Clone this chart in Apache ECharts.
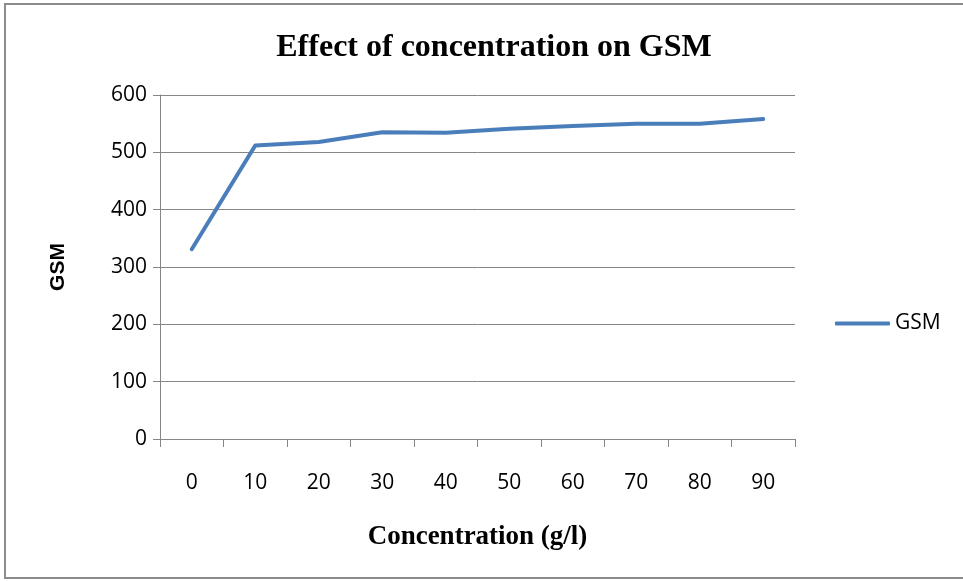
<!DOCTYPE html>
<html>
<head>
<meta charset="utf-8">
<script src="https://cdn.jsdelivr.net/npm/echarts@6/dist/echarts.min.js"></script>
<style>
  html, body { margin: 0; padding: 0; background: #fff; }
  #main { width: 963px; height: 581px; }
</style>
</head>
<body>
<div id="main"></div>
<script>
// concentration (g/l) on x, GSM on y
const concentrations = ["0", "10", "20", "30", "40", "50", "60", "70", "80", "90"];
const gsmValues = [331, 512, 518, 535, 534, 541, 546, 550, 550, 558];
const seriesName = "GSM";

const chart = echarts.init(document.getElementById("main"));
const axisGray = "#868686";

const option = {
  animation: false,
  backgroundColor: "#fff",
  title: {
    text: "Effect of concentration on GSM",
    left: 489,
    top: 27,
    textAlign: "center",
    textStyle: {
      fontFamily: "Liberation Serif",
      fontWeight: "bold",
      fontSize: 32,
      color: "#000",
    },
  },
  graphic: [
    {
      type: "rect",
      shape: { x: 5, y: 4, width: 970, height: 574 },
      style: { fill: null, stroke: "#8c8c8c", lineWidth: 2 },
      silent: true,
    },
  ],
  legend: {
    data: [seriesName],
    left: 830,
    top: 308,
    itemWidth: 55,
    itemHeight: 4,
    icon: "roundRect",
    textStyle: { fontFamily: "Open Sans", fontSize: 21, color: "#000" },
  },
  grid: { left: 160, right: 168, top: 95, bottom: 142 },
  xAxis: {
    type: "category",
    data: concentrations,
    boundaryGap: true,
    name: "Concentration (g/l)",
    nameLocation: "middle",
    nameGap: 85,
    nameTextStyle: {
      fontFamily: "Liberation Serif",
      fontWeight: "bold",
      fontSize: 27,
      color: "#000",
    },
    axisLine: { lineStyle: { color: axisGray, width: 1 } },
    axisTick: { show: true, length: 8, lineStyle: { color: axisGray } },
    axisLabel: { margin: 34, fontFamily: "Open Sans", fontSize: 21, color: "#000" },
  },
  yAxis: {
    type: "value",
    min: 0,
    max: 600,
    interval: 100,
    name: "GSM",
    nameLocation: "middle",
    nameGap: 91,
    nameTextStyle: {
      fontFamily: "Liberation Sans",
      fontWeight: "bold",
      fontSize: 21,
      color: "#000",
    },
    axisLine: { show: true, lineStyle: { color: axisGray, width: 1 } },
    axisTick: { show: true, length: 7, lineStyle: { color: axisGray } },
    axisLabel: { margin: 13, fontFamily: "Open Sans", fontSize: 21, color: "#000" },
    splitLine: { lineStyle: { color: axisGray, width: 1 } },
  },
  series: [
    {
      name: seriesName,
      type: "line",
      data: gsmValues,
      symbol: "none",
      lineStyle: { color: "#4a7ebb", width: 4, cap: "round", join: "round" },
      itemStyle: { color: "#4a7ebb" },
    },
  ],
};

chart.setOption(option);
</script>
</body>
</html>
